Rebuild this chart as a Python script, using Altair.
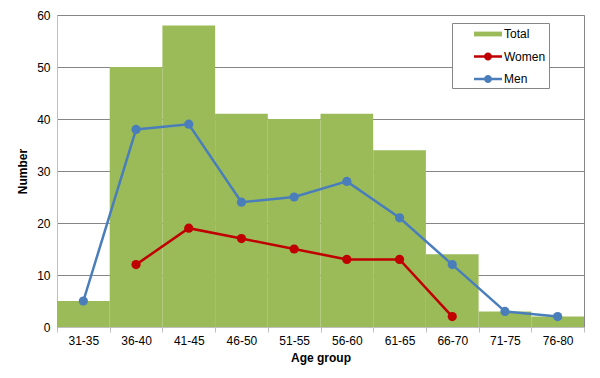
import altair as alt
import pandas as pd

age_groups = ["31-35", "36-40", "41-45", "46-50", "51-55",
              "56-60", "61-65", "66-70", "71-75", "76-80"]
total = [5, 50, 58, 41, 40, 41, 34, 14, 3, 2]
women = [None, 12, 19, 17, 15, 13, 13, 2, None, None]
men = [5, 38, 39, 24, 25, 28, 21, 12, 3, 2]
series_names = ["Total", "Women", "Men"]
series_colors = ["#9BBB59", "#C00000", "#4A7EBB"]
y_ticks = [0, 10, 20, 30, 40, 50, 60]

FONT = "Liberation Sans"

bars_df = pd.DataFrame({"age": age_groups, "value": total, "series": "Total"})
rows = []
for name, vals in (("Women", women), ("Men", men)):
    for a, v in zip(age_groups, vals):
        if v is not None:
            rows.append({"age": a, "value": v, "series": name})
lines_df = pd.DataFrame(rows)

# legend symbol paths (unit = 8px)
rect_path = "M-1.75,-0.3H1.75V0.3H-1.75Z"
line_path = ("M-1.75,-0.15H1.75V0.15H-1.75Z "
             "M-0.5,0A0.5,0.5 0 1,1 0.5,0A0.5,0.5 0 1,1 -0.5,0Z")

x = alt.X("age:N", sort=age_groups,
          scale=alt.Scale(domain=age_groups, paddingInner=0, paddingOuter=0),
          axis=alt.Axis(title="Age group", labelAngle=0, tickBand="extent",
                        ticks=True, tickSize=5, tickColor="#BFBFBF",
                        domainColor="#BFBFBF", grid=False, labelPadding=3,
                        titlePadding=6))
y = alt.Y("value:Q", scale=alt.Scale(domain=[0, 60]),
          axis=alt.Axis(title="Number", values=y_ticks, grid=True,
                        gridColor="#868686", gridWidth=1, ticks=False,
                        domainColor="#BFBFBF", labelPadding=7,
                        titlePadding=7))

legend = alt.Legend(title=None, orient="none", legendX=395, legendY=8,
                    padding=3, symbolSize=256, symbolOffset=25,
                    labelOffset=8, rowPadding=8.5, strokeColor="#868686",
                    fillColor="white", labelFont=FONT, labelFontSize=12,
                    labelColor="black", symbolStrokeWidth=0,
                    labelExpr="datum.label + '      '")
color = alt.Color("series:N",
                  scale=alt.Scale(domain=series_names, range=series_colors),
                  legend=legend)
shape = alt.Shape("series:N",
                  scale=alt.Scale(domain=series_names,
                                  range=[rect_path, line_path, line_path]),
                  legend=legend)

bars = alt.Chart(bars_df).mark_bar(strokeWidth=0).encode(
    x=x, y=y, color=color)

lines = alt.Chart(lines_df).mark_line(strokeWidth=2.5).encode(
    x=x, y=y, color=color, detail="series:N")

points = alt.Chart(lines_df).mark_circle(size=85, opacity=1).encode(
    x=x, y=y, color=color)

legend_layer = alt.Chart(lines_df).transform_filter("false").mark_point(
    filled=True).encode(x=x, y=y, color=color, shape=shape)

chart = alt.layer(bars, lines, points, legend_layer).properties(
    width=527, height=312,
    background="white",
    autosize=alt.AutoSizeParams(type="none"),
    padding={"left": 49, "top": 7, "right": 5, "bottom": 50},
).configure_view(stroke="#868686", strokeWidth=1).configure_axis(
    labelFont=FONT, labelFontSize=12, labelColor="black",
    titleFont=FONT, titleFontSize=12, titleFontWeight="bold",
    titleColor="black",
)

chart.save("out.html", embed_options={"renderer": "svg", "actions": False})
